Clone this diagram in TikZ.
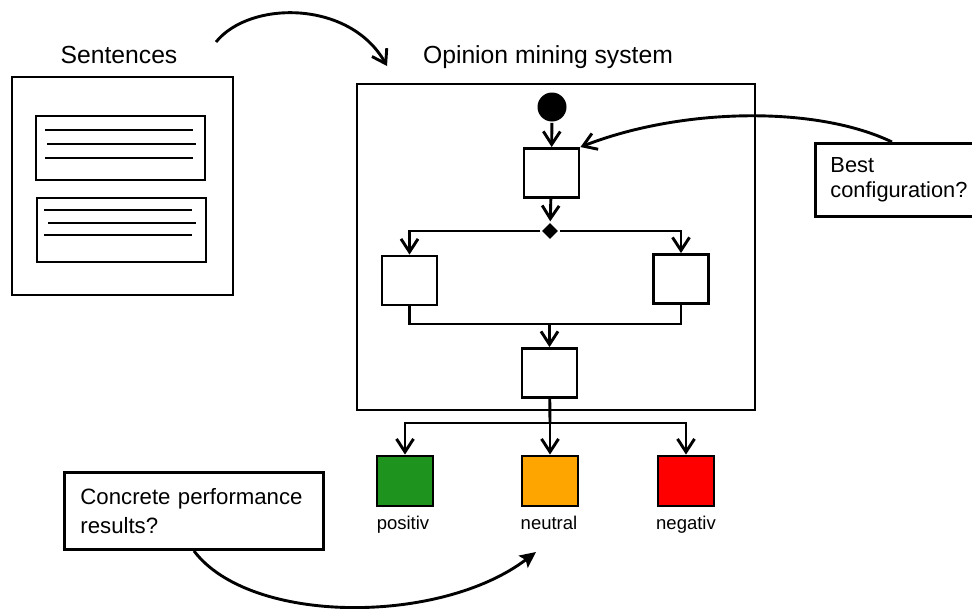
\documentclass[tikz,border=0pt]{standalone}
\usepackage{fontspec}
\setmainfont{Liberation Sans}
\usetikzlibrary{positioning,calc,arrows.meta,shapes.geometric}

\definecolor{posgreen}{RGB}{30,148,30}
\definecolor{neuorange}{RGB}{255,165,0}
\definecolor{negred}{RGB}{255,0,0}

\begin{document}
\begin{tikzpicture}[x=1pt, y=-1pt, line width=2.9pt,
    box/.style={draw, rectangle, inner sep=0pt},
    act/.style={box, minimum width=55, minimum height=49, fill=white},
    res/.style={box, minimum width=56, minimum height=50},
    qbox/.style={draw, align=left, inner ysep=0pt, anchor=north west},
    title/.style={font=\fontsize{24.7}{30}\selectfont, anchor=base},
    lab/.style={font=\fontsize{18.5}{22}\selectfont, anchor=base},
    flow/.style={-{Straight Barb[length=13pt, width=17pt]}},
]
\useasboundingbox (0,0) rectangle (972,608);
\clip (0,0) rectangle (972,608);

% Sentences panel with two documents
\node[box, minimum width=221, minimum height=218] (sent) at (122.5,186) {};
\node[box, minimum width=169, minimum height=64] (doc1) at (120.5,148) {};
\node[box, minimum width=169, minimum height=64] (doc2) at (121.5,230) {};
\foreach \y/\a/\b in {130/45/193, 144/47/196, 158/45/193, 210/44/192, 223/48/196, 235/44/192}
    \draw (\a,\y) -- (\b,\y);
\node[title] (sentlab) at (119,63) {Sentences};

% Opinion mining system
\node[box, minimum width=398, minimum height=326] (sys) at (556,247) {};
\node[title] (syslab) at (548,63) {Opinion mining system};

\node[circle, fill, inner sep=0pt, minimum size=29] (start) at (552,107) {};
\node[act] (a1) at (551.5,173) {};
\node[diamond, fill, inner sep=0pt, minimum size=17] (dec) at (550,231) {};
\node[act] (a2) at (409.5,280.5) {};
\node[act] (a3) at (681,279) {};
\node[act] (a4) at (549.5,373) {};
\coordinate (join) at (549.5,324);
\coordinate (split) at (550,423);

\draw[flow] (start) -- (a1);
\draw[flow] (a1) -- (dec);
\draw[flow] (dec.west) -| (a2);
\draw[flow] (dec.east) -| (a3);
\draw (a2) |- (join) -| (a3);
\draw[flow] (join) -- (a4);

% Results
\node[res, fill=posgreen] (pos) at (405,481) {};
\node[res, fill=neuorange] (neu) at (550,481) {};
\node[res, fill=negred] (neg) at (686,481) {};
\node[lab] (poslab) at (403,529) {positiv};
\node[lab] (neulab) at (549,529) {neutral};
\node[lab] (neglab) at (686,529) {negativ};

\draw (a4) -- (split);
\draw[flow] (split) -| (pos);
\draw[flow] (split) -- (neu);
\draw[flow] (split) -| (neg);

% Questions
\node[qbox, text width=150, inner xsep=15, minimum height=73,
    font=\fontsize{21.8}{25}\selectfont] (best) at (814,142) {Best\\configuration?};
\node[qbox, text width=227, inner xsep=16, minimum height=77,
    font=\fontsize{22.2}{28.5}\selectfont] (conc) at (63,471) {Concrete performance\\results?};

% Curved arrows
\coordinate (c1s) at (216,42);
\coordinate (c1e) at (387,66);
\draw[flow] (c1s) .. controls (250,0) and (350,0) .. (c1e);
\draw[flow] ($(best.north west)+(78,0)$) .. controls (815,105) and (680,108) .. (a1.north east);
\coordinate (c3e) at (536,552);
\draw[-{Stealth[length=16pt, width=15pt, inset=3pt]}] (conc.south) .. controls (250,625) and (440,625) .. (c3e);
\end{tikzpicture}
\end{document}
